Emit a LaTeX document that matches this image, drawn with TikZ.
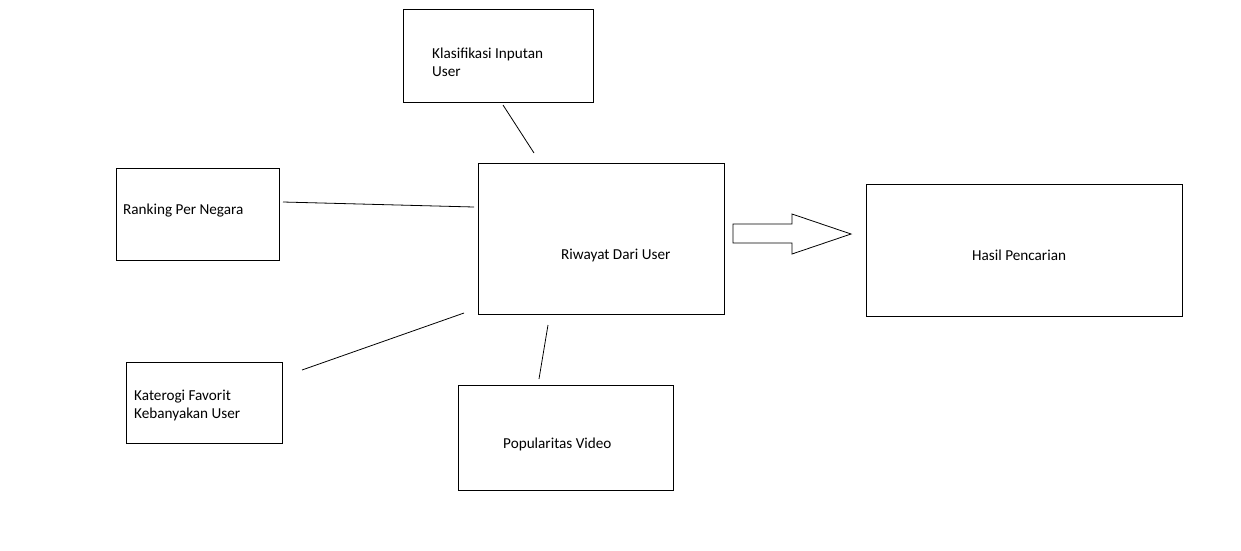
\documentclass[tikz,border=0pt]{standalone}
\usepackage{fontspec}
\setmainfont{Carlito}
\usepackage{tikz}
\usetikzlibrary{calc}

\tikzset{
  kotak/.style={draw=black, line width=0.8pt, minimum width=#1, inner sep=0pt},
  label/.style={anchor=west, inner sep=0pt, align=left, font=\fontsize{15.2}{18}\selectfont},
  garis/.style={black, line width=0.8pt}
}

\begin{document}
\begin{tikzpicture}[x=1pt,y=-1pt]
\useasboundingbox (0,0) rectangle (1241,550);
% kotak-kotak
\node[kotak=190pt, minimum height=93pt] (klas) at (498,55.5) {};
\node[kotak=163pt, minimum height=92pt] (rank) at (197.5,214) {};
\node[kotak=246pt, minimum height=151pt] (riwayat) at (601,238.5) {};
\node[kotak=316pt, minimum height=132pt] (hasil) at (1024,250) {};
\node[kotak=156pt, minimum height=81pt] (kat) at (204,402.5) {};
\node[kotak=215pt, minimum height=105pt] (pop) at (565.5,437.5) {};
% teks
\node[label] (tklas) at (432,62) {Klasifikasi Inputan\\User};
\node[label] (trank) at (123,211) {Ranking Per Negara};
\node[label] (triwayat) at (561,255) {Riwayat Dari User};
\node[label] (thasil) at (972,255) {Hasil Pencarian};
\node[label] (tkat) at (134,405) {Katerogi Favorit\\Kebanyakan User};
\node[label] (tpop) at (503,444) {Popularitas Video};
% ujung garis
\coordinate (k1) at (503,105);
\coordinate (k2) at (534,153);
\coordinate (r1) at (283,202);
\coordinate (r2) at (474,207);
\coordinate (f1) at (302,370);
\coordinate (f2) at (464,313);
\coordinate (p1) at (539,379);
\coordinate (p2) at (548,325);
\draw[garis] (k1) -- (k2);
\draw[garis] (r1) -- (r2);
\draw[garis] (f1) -- (f2);
\draw[garis] (p1) -- (p2);
% panah blok
\draw[garis] (733,224) -- (792,224) -- (792,214) -- (851,234) -- (792,254) -- (792,243) -- (733,243) -- cycle;
\end{tikzpicture}
\end{document}
